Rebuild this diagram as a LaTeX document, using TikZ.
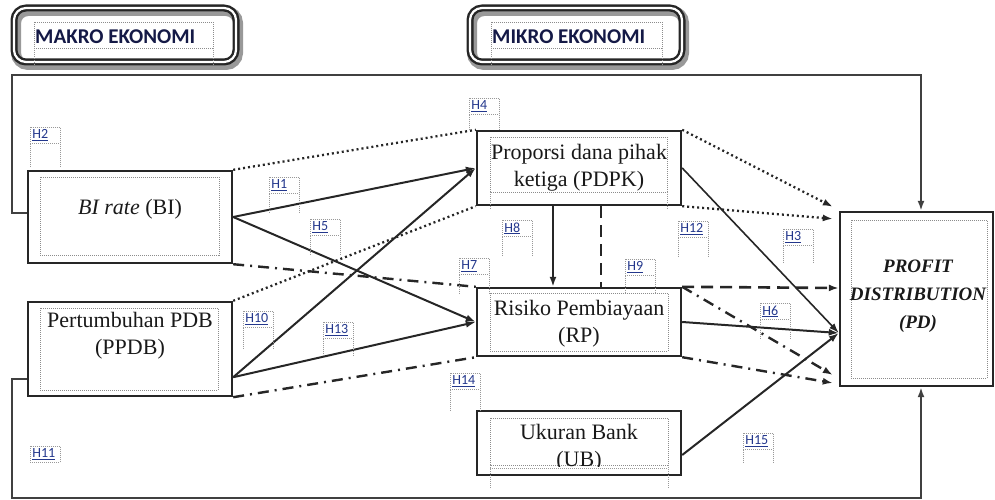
\documentclass[tikz,border=0pt]{standalone}
\usepackage{fontspec}
\setmainfont{Liberation Serif}
\newfontfamily\calibri{Carlito}
\usetikzlibrary{arrows.meta,calc}
\definecolor{hblue}{RGB}{35,55,140}
\definecolor{navy}{RGB}{20,25,70}

% hypothesis tag: name, x, y (top left), length of the dotted legs
\newcommand\hyp[4]{%
  \node[hbox] (#1) at (#2,#3) {\underline{#1}};
  \ifnum#4>0
    \draw[hleg] (#1.south west) -- ++(0,#4);
    \draw[hleg] (#1.south east) -- ++(0,#4);
  \fi}

\begin{document}
\begin{tikzpicture}[x=1pt,y=-1pt,
  box/.style={draw=black!85,line width=2.4pt,minimum width=204,inner sep=0pt},
  inbox/.style={draw=black!45,line width=0.8pt,dash pattern=on 1pt off 1pt},
  txt/.style={font=\fontsize{22}{27}\selectfont,align=center,text=black!90},
  pdtxt/.style={font=\fontsize{19}{28}\selectfont\bfseries\itshape,align=center,text=black!90},
  head/.style={draw=black!85,line width=2.4pt,double=white,double distance=2.2pt,
    rounded corners=12pt,inner sep=0pt,minimum height=50},
  headshadow/.style={draw=black!40,line width=10pt,rounded corners=12pt},
  headtxt/.style={font=\calibri\bfseries\fontsize{21}{24}\selectfont,text=navy,anchor=base west,inner sep=0pt},
  hbox/.style={anchor=north west,draw=black!40,dash pattern=on 1pt off 1pt,line width=0.7pt,
    minimum width=30,minimum height=16,inner sep=1.5pt,text width=26pt,align=left,
    font=\calibri\fontsize{14}{15}\selectfont,text=hblue},
  hleg/.style={draw=black!40,dash pattern=on 1pt off 1pt,line width=0.7pt},
  frame/.style={draw=black!75,line width=2pt},
  tip/.style={-{Latex[length=10pt,width=7pt]}},
  solid line/.style={draw=black!85,line width=2pt},
  dots/.style={draw=black!85,line width=2.3pt,dash pattern=on 2pt off 3pt},
  dashdot/.style={draw=black!85,line width=2.4pt,dash pattern=on 11pt off 6pt on 2pt off 6pt},
  dashes/.style={draw=black!85,line width=2.6pt,dash pattern=on 12pt off 7pt},
]
\useasboundingbox (0,0) rectangle (995,500);

% ---- group headers ----
\draw[headshadow] (16,11) rectangle (238,65);
\node[head,minimum width=222,minimum height=54] (makro) at (125,35) {};
\draw[inbox] (34,22) rectangle (213,48);
\draw[hleg] (34,48) -- (34,66) (213,48) -- (213,66);
\node[headtxt] (makro-t) at (35,44) {MAKRO EKONOMI};

\draw[headshadow] (472,11) rectangle (684,65);
\node[head,minimum width=212,minimum height=54] (mikro) at (576,35) {};
\draw[inbox] (491,22) rectangle (662,48);
\draw[hleg] (491,48) -- (491,66) (662,48) -- (662,66);
\node[headtxt] (mikro-t) at (492,44) {MIKRO EKONOMI};

% ---- variable boxes ----
\node[box,minimum height=92] (bi) at (130,217) {};
\node[box,minimum height=94] (ppdb) at (130,349) {};
\node[box,minimum height=74] (pdpk) at (579,168) {};
\node[box,minimum height=68] (rp) at (579,322) {};
\node[box,minimum height=64] (ub) at (579,443) {};
\node[box,minimum width=153,minimum height=174] (pd) at (916.5,299) {};

% inner dotted frames
\draw[inbox] (40,177) rectangle (219,255);
\draw[inbox] (40,308) rectangle (218,390);
\draw[inbox] (490,137) rectangle (667,192);
\draw[hleg] (490,192) -- (490,210) (667,192) -- (667,210);
\draw[inbox] (490,293) rectangle (668,351);
\draw[inbox] (490,418) rectangle (668,465);
\draw[hleg] (490,468) -- (668,468);
\draw[hleg] (490,465) -- (490,488) (668,465) -- (668,488);
\draw[inbox] (851,220) rectangle (987,378);

% texts
\node[txt] (bi-t) at (130,209) {\textit{BI rate} (BI)};
\node[txt] (ppdb-t) at (130,336) {Pertumbuhan PDB\\(PPDB)};
\node[txt] (pdpk-t) at (579,168) {Proporsi dana pihak\\ketiga (PDPK)};
\node[txt] (rp-t) at (579,324) {Risiko Pembiayaan\\(RP)};
\begin{scope}
  \clip (ub.north west) rectangle ([yshift=10pt]ub.south east);
  \node[txt] (ub-t) at (579,448) {Ukuran Bank\\(UB)};
\end{scope}
\node[pdtxt] (pd-t) at (918,296) {PROFIT\\DISTRIBUTION\\(PD)};

% ---- outer frame (direct paths to PD) ----
\coordinate (tl) at (12,75);
\coordinate (tr) at (921,75);
\coordinate (bl) at (12,498);
\coordinate (br) at (921,498);
\draw[frame,tip] ([yshift=4pt]bi.west) -- ([yshift=4pt]bi.west -| tl) -- (tl) -- (tr) -- (tr |- pd.north);
\draw[frame,tip] ([yshift=18pt]ppdb.south west) -- ([yshift=18pt]ppdb.south west -| bl) -- (bl) -- (br) -- (br |- pd.south);

% ---- macro to micro ----
\draw[dots] (bi.north east) -- (pdpk.north west);
\draw[dots] (ppdb.north east) -- (pdpk.south west);
\draw[dashdot] (bi.south east) -- (rp.north west);
\draw[dashdot] (ppdb.south east) -- (rp.south west);
\draw[solid line,tip] (bi.east) -- (pdpk.west);
\draw[solid line,tip] (bi.east) -- (rp.west);
\draw[solid line,tip] ([yshift=20pt]ppdb.south east) -- (pdpk.west);
\draw[solid line,tip] ([yshift=20pt]ppdb.south east) -- (rp.west);

% ---- within micro ----
\draw[solid line,tip] ([xshift=-26pt]pdpk.south) -- ([xshift=-26pt]rp.north);
\draw[dashes] ([xshift=22pt]pdpk.south) -- ([xshift=22pt]rp.north);

% ---- to profit distribution ----
\draw[dots,tip] (pdpk.north east) -- ([shift={(-6pt,4pt)}]pd.north west);
\draw[dots,tip] (pdpk.south east) -- ([shift={(-6pt,-8pt)}]pd.north west);
\draw[solid line,line width=1.6pt,tip] (pdpk.east) -- ([yshift=-34pt]pd.west);
\draw[dashes,tip] (rp.north east) -- ([yshift=11pt]pd.west);
\draw[dashdot,tip] (rp.north east) -- ([shift={(-6pt,-76pt)}]pd.west);
\draw[dashdot,tip] (rp.south east) -- ([shift={(-6pt,-84pt)}]pd.west);
\draw[solid line,tip] (rp.east) -- ([yshift=-34pt]pd.west);
\draw[solid line,tip] ([yshift=-12pt]ub.east) -- ([yshift=-34pt]pd.west);

% ---- hypothesis tags ----
\hyp{H2}{30}{127}{24}
\hyp{H4}{469}{98}{15}
\hyp{H1}{269}{177}{19}
\hyp{H5}{310}{219}{20}
\hyp{H7}{459}{258}{20}
\hyp{H8}{502}{220}{20}
\hyp{H12}{678}{221}{19}
\hyp{H3}{783}{229}{18}
\hyp{H9}{625}{259}{18}
\hyp{H6}{760}{303}{20}
\hyp{H10}{243}{311}{22}
\hyp{H13}{323}{322}{18}
\hyp{H14}{450}{373}{21}
\hyp{H11}{30}{446}{0}
\hyp{H15}{743}{433}{14}
\end{tikzpicture}
\end{document}
